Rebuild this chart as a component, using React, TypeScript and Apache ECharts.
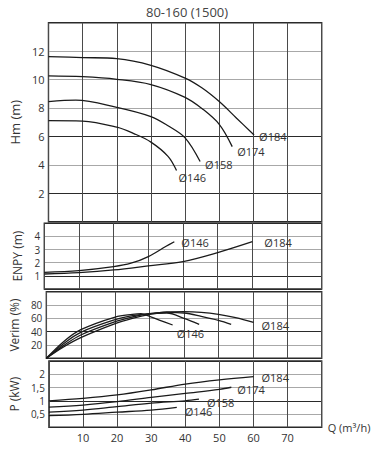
import React, { useEffect, useRef } from "react";
import * as echarts from "echarts";

// Hm (m) curves
const qHm184 = [0, 10, 20, 30, 40, 45, 50, 55, 60.2];
const hm184 = [11.62, 11.55, 11.47, 11.0, 10.1, 9.4, 8.45, 7.3, 6.1];
const qHm174 = [0, 10, 20, 30, 40, 45, 50, 53.8];
const hm174 = [10.26, 10.2, 10.02, 9.65, 8.75, 7.95, 6.85, 5.28];
const qHm158 = [0, 8, 20, 30, 35, 40, 44.4];
const hm158 = [8.45, 8.55, 8.05, 7.4, 6.75, 5.9, 4.23];
const qHm146 = [0, 10, 20, 25, 30, 35, 37.5];
const hm146 = [7.11, 7.08, 6.65, 6.2, 5.6, 4.6, 3.6];

// ENPY (m)
const qNp146 = [0, 10, 20, 25, 30, 35, 37.5];
const np146 = [1.27, 1.4, 1.7, 1.96, 2.47, 3.23, 3.6];
const qNp184 = [0, 10, 20, 30, 40, 50, 60];
const np184 = [1.14, 1.25, 1.45, 1.76, 2.09, 2.77, 3.6];

// Verim (%)
const qEf184 = [0, 5, 10, 20, 25, 30, 35, 40, 45, 50, 55, 60.2];
const ef184 = [0, 17, 31, 52, 60, 66, 69.5, 70, 69, 66, 61, 54];
const qEf174 = [0, 5, 10, 20, 25, 30, 35, 40, 45, 50, 53.7];
const ef174 = [0, 19, 35, 55, 62, 67, 69, 68, 63, 57, 51];
const qEf158 = [0, 5, 10, 20, 25, 30, 35, 40, 44.4];
const ef158 = [0, 22, 39, 58, 64, 67, 68, 60, 51];
const qEf146 = [0, 5, 10, 20, 25, 27.5, 30, 33, 36.7];
const ef146 = [0, 25, 43, 62, 66, 67, 63, 57, 50];

// P (kW)
const qP184 = [0, 10, 20, 30, 40, 50, 60];
const p184 = [1.0, 1.09, 1.22, 1.41, 1.63, 1.79, 1.91];
const qP174 = [0, 10, 20, 30, 40, 50, 53.5];
const p174 = [0.76, 0.84, 0.97, 1.13, 1.28, 1.43, 1.51];
const qP158 = [0, 10, 20, 30, 40, 44];
const p158 = [0.57, 0.65, 0.78, 0.91, 1.0, 1.06];
const qP146 = [0, 10, 20, 30, 37.5];
const p146 = [0.44, 0.49, 0.57, 0.65, 0.75];

const title = "80-160 (1500)";
const xName = "Q (m³/h)";

const FONT = "Open Sans";
const TXT = "#333";

function zip(xs: number[], ys: number[]) {
  return xs.map((x, i) => [x, ys[i]]);
}

export default function App() {
  const ref = useRef<HTMLDivElement>(null);
  useEffect(() => {
    if (!ref.current) return;
    const chart = echarts.init(ref.current, null, { renderer: "svg" });

    const grids = [
      { left: 44.3, top: 22.7, width: 277.4, height: 199 },
      { left: 44.3, top: 223.3, width: 277.4, height: 65.7 },
      { left: 44.3, top: 291.7, width: 277.4, height: 66.6 },
      { left: 44.3, top: 361, width: 277.4, height: 66.3 },
    ].map((g) => ({
      ...g,
      show: true,
      borderColor: "#2a2a2a",
      borderWidth: 1.4,
      backgroundColor: "transparent",
    }));

    const xAxes = [0, 1, 2, 3].map((i) => ({
      type: "value" as const,
      gridIndex: i,
      min: 0,
      max: 80,
      interval: 10,
      axisLine: { show: false },
      axisTick: { show: false },
      axisLabel: {
        show: i === 3,
        color: TXT,
        fontSize: 11,
        fontFamily: FONT,
        margin: 5,
        formatter: (v: number) => (v === 0 || v === 80 ? "" : String(v)),
      },
      splitLine: { show: true, lineStyle: { color: "#4a4a4a", width: 1 } },
      name: i === 3 ? xName : "",
      nameLocation: "end" as const,
      nameGap: 6,
      nameTextStyle: { color: TXT, fontSize: 11, fontFamily: FONT, verticalAlign: "middle" as const },
    }));

    const yBase = (i: number, min: number, max: number, interval: number, name: string, gap: number, nfs: number, lfs: number, colors: string[], fmt: (v: number) => string) => ({
      type: "value" as const,
      gridIndex: i,
      min,
      max,
      interval,
      name,
      nameLocation: "middle" as const,
      nameGap: gap,
      nameTextStyle: { color: TXT, fontSize: nfs, fontFamily: FONT },
      axisLine: { show: false },
      axisTick: { show: false },
      axisLabel: { color: TXT, fontSize: lfs, lineHeight: lfs, fontFamily: FONT, margin: 4, formatter: fmt },
      splitLine: { show: true, lineStyle: { color: colors, width: 1.2 } },
    });

    const D = "#2a2a2a";
    const L = "#a8a8a8";
    const yAxes = [
      yBase(0, 0, 14, 2, "Hm (m)", 19, 13, 11, [D, D, L, D, L, L, L, D], (v) => (v === 0 || v === 14 ? "" : String(v))),
      yBase(1, 0, 5, 1, "ENPY (m)", 21, 12, 10, [D, D, L, L, L, D], (v) => (v === 0 || v === 5 ? "" : String(v))),
      yBase(2, 0, 100, 20, "Verim (%)", 21, 12, 10, [D, L, D, L, L, D], (v) => (v === 0 || v === 100 ? "" : String(v))),
      yBase(3, 0, 2.5, 0.5, "P (kW)", 21, 12, 10, [D, L, D, L, L, D], (v) => (v === 0 || v === 2.5 ? "" : String(v).replace(".", ","))),
    ];

    const mk = (idx: number, xs: number[], ys: number[], label: string | null, offset: number[]) => ({
      type: "line" as const,
      xAxisIndex: idx,
      yAxisIndex: idx,
      data: zip(xs, ys),
      smooth: 0.35,
      symbol: "none",
      lineStyle: { color: "#1a1a1a", width: 1.3 },
      endLabel: label
        ? { show: true, formatter: label, offset, color: TXT, fontSize: 11, fontFamily: FONT }
        : { show: false },
      silent: true,
    });

    const series = [
      mk(0, qHm184, hm184, "Ø184", [-3, 2]),
      mk(0, qHm174, hm174, "Ø174", [-3, 5]),
      mk(0, qHm158, hm158, "Ø158", [-3, 3]),
      mk(0, qHm146, hm146, "Ø146", [-6, 7]),
      mk(1, qNp146, np146, "Ø146", [-1, 1]),
      mk(1, qNp184, np184, "Ø184", [4, 1]),
      mk(2, qEf184, ef184, "Ø184", [0, 3]),
      mk(2, qEf174, ef174, null, [0, 0]),
      mk(2, qEf158, ef158, null, [0, 0]),
      mk(2, qEf146, ef146, "Ø146", [-4, 8]),
      mk(3, qP184, p184, "Ø184", [0, 1]),
      mk(3, qP174, p174, "Ø174", [-2, 2]),
      mk(3, qP158, p158, "Ø158", [0, 3]),
      mk(3, qP146, p146, "Ø146", [0, 4]),
    ];

    chart.setOption({
      animation: false,
      backgroundColor: "#fff",
      title: {
        text: title,
        left: 141,
        top: 0,
        textStyle: { color: "#444", fontSize: 13, fontWeight: "normal", fontFamily: FONT },
      },
      grid: grids,
      xAxis: xAxes,
      yAxis: yAxes,
      series,
    });
    return () => chart.dispose();
  }, []);
  return (
    <div
      ref={ref}
      style={{ position: "fixed", left: 0, top: 0, width: 380, height: 450 }}
    />
  );
}
